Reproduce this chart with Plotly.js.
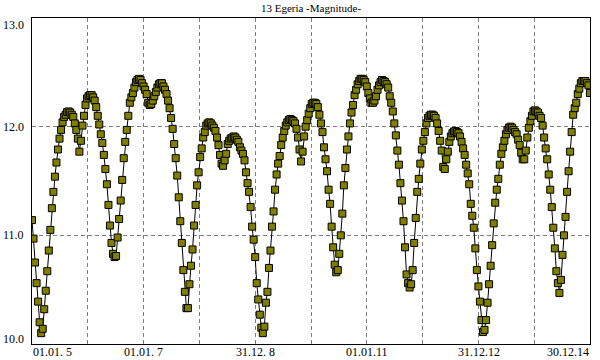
<!DOCTYPE html>
<html>
<head>
<meta charset="utf-8">
<script src="https://cdn.plot.ly/plotly-3.0.1.min.js"></script>
<style>
  html, body { margin: 0; padding: 0; background: #fff; }
  #chart { width: 600px; height: 360px; }
</style>
</head>
<body>
<div id="chart"></div>
<script>
// Ephemeris grid: first date and step (days)
const startDate = '2005-01-01';
const endDate = '2014-12-30';
const stepDays = 10;

// Magnitude of 13 Egeria, one value per step
const magnitude = [
  11.14, 10.97, 10.75, 10.56, 10.39, 10.20, 10.10, 10.14, 10.32, 10.49,
  10.67, 10.86, 11.05, 11.25, 11.40, 11.54, 11.67, 11.79, 11.89, 11.97,
  12.04, 12.09, 12.11, 12.135, 12.14, 12.13, 12.11, 12.09, 12.03, 11.97,
  11.89, 11.77, 11.87, 12.01, 12.10, 12.20, 12.26, 12.28, 12.29, 12.29,
  12.27, 12.24, 12.18, 12.10, 12.02, 11.93, 11.85, 11.74, 11.61, 11.47,
  11.28, 11.09, 10.93, 10.83, 10.80, 10.81, 10.98, 11.15, 11.32, 11.51,
  11.71, 11.86, 11.97, 12.10, 12.22, 12.27, 12.31, 12.36, 12.41, 12.43,
  12.44, 12.43, 12.40, 12.37, 12.34, 12.30, 12.22, 12.20, 12.21, 12.24,
  12.28, 12.32, 12.36, 12.39, 12.40, 12.40, 12.37, 12.34, 12.30, 12.24,
  12.17, 12.08, 11.98, 11.84, 11.71, 11.55, 11.35, 11.13, 10.93, 10.68,
  10.48, 10.33, 10.33, 10.55, 10.72, 10.87, 11.09, 11.28, 11.46, 11.58,
  11.72, 11.80, 11.90, 11.95, 12.01, 12.03, 12.04, 12.03, 12.01, 11.99,
  11.96, 11.90, 11.83, 11.74, 11.66, 11.64, 11.69, 11.75, 11.84, 11.87,
  11.89, 11.90, 11.91, 11.90, 11.88, 11.86, 11.81, 11.78, 11.75, 11.69,
  11.58, 11.48, 11.40, 11.26, 11.08, 10.96, 10.80, 10.56, 10.41, 10.27,
  10.15, 10.10, 10.16, 10.38, 10.48, 10.70, 10.86, 11.08, 11.22, 11.42,
  11.56, 11.66, 11.73, 11.83, 11.90, 11.96, 12.01, 12.04, 12.06, 12.07,
  12.06, 12.05, 12.03, 11.98, 11.90, 11.79, 11.68, 11.77, 11.91, 12.00,
  12.06, 12.12, 12.17, 12.21, 12.22, 12.22, 12.21, 12.18, 12.11, 12.03,
  11.95, 11.81, 11.70, 11.59, 11.42, 11.29, 11.08, 10.89, 10.73, 10.66,
  10.68, 10.83, 11.00, 11.20, 11.46, 11.62, 11.79, 11.91, 12.03, 12.13,
  12.20, 12.29, 12.34, 12.39, 12.42, 12.44, 12.44, 12.43, 12.41, 12.37,
  12.31, 12.26, 12.22, 12.22, 12.24, 12.28, 12.34, 12.38, 12.41, 12.43,
  12.42, 12.41, 12.39, 12.36, 12.28, 12.22, 12.14, 12.03, 11.92, 11.78,
  11.65, 11.48, 11.32, 11.13, 10.89, 10.64, 10.56, 10.52, 10.55, 10.68,
  10.93, 11.16, 11.40, 11.52, 11.66, 11.79, 11.87, 11.95, 12.03, 12.08,
  12.10, 12.11, 12.11, 12.10, 12.08, 12.03, 11.96, 11.87, 11.78, 11.63,
  11.61, 11.70, 11.77, 11.86, 11.91, 11.94, 11.955, 11.96, 11.95, 11.94,
  11.91, 11.86, 11.80, 11.74, 11.65, 11.57, 11.47, 11.29, 11.18, 11.07,
  10.88, 10.68, 10.53, 10.39, 10.22, 10.11, 10.13, 10.22, 10.38, 10.55,
  10.72, 10.91, 11.11, 11.30, 11.42, 11.52, 11.65, 11.75, 11.81, 11.87,
  11.93, 11.97, 11.99, 12.00, 11.99, 11.97, 11.95, 11.93, 11.88, 11.83,
  11.76, 11.70, 11.70, 11.78, 11.90, 11.99, 12.05, 12.10, 12.14, 12.15,
  12.14, 12.13, 12.10, 12.08, 12.01, 11.90, 11.80, 11.70, 11.56, 11.42,
  11.26, 11.07, 10.88, 10.67, 10.56, 10.47, 10.59, 10.82, 11.00, 11.17,
  11.40, 11.59, 11.77, 11.95, 12.11, 12.17, 12.22, 12.30, 12.35, 12.40,
  12.42, 12.42, 12.42, 12.40, 12.38, 12.31
];

// Grid (yearly) dates
const gridDates = ['2006-01-01','2007-01-01','2008-01-01','2009-01-01','2010-01-01',
                   '2011-01-01','2012-01-01','2013-01-01','2014-01-01'];
// Date labels under the axis
const xLabelDates = ['2005-01-01','2007-01-01','2008-12-31','2011-01-01','2012-12-31','2014-12-30'];
const xLabelText  = ['01.01. 5','01.01. 7','31.12. 8','01.01.11','31.12.12','30.12.14'];
// Magnitude axis labels
const yTickVals = [10, 11, 12, 13];
const yTickText = ['10.0', '11.0', '12.0', '13.0'];

const t0 = Date.parse(startDate + 'T00:00:00Z');
const dates = magnitude.map((_, i) =>
  new Date(t0 + i * stepDays * 86400000).toISOString().slice(0, 10));

const serif = '"Liberation Serif", "Times New Roman", Times, serif';
const font = { family: serif, size: 12, color: '#000' };

const annotations = [];
xLabelDates.forEach((d, k) => {
  annotations.push({
    x: d, xref: 'x', y: 0, yref: 'paper',
    text: xLabelText[k], showarrow: false,
    xanchor: k === 0 ? 'left' : (k === xLabelDates.length - 1 ? 'right' : 'center'),
    yanchor: 'middle', yshift: -8, font: font, borderpad: 0
  });
});
yTickVals.forEach((v, k) => {
  let ys = 0;
  if (k === 0) ys = 5;
  if (k === yTickVals.length - 1) ys = -7;
  annotations.push({
    x: 0, xref: 'paper', y: v, yref: 'y',
    text: yTickText[k], showarrow: false,
    xanchor: 'right', yanchor: 'middle', xshift: -7, yshift: ys,
    font: font, borderpad: 0
  });
});

const trace = {
  x: dates, y: magnitude, type: 'scatter', mode: 'lines+markers',
  line: { color: '#000', width: 1 },
  marker: { symbol: 'square', size: 7, color: '#808000', line: { color: '#000', width: 1 } },
  hoverinfo: 'skip', cliponaxis: true
};

const layout = {
  width: 600, height: 360,
  margin: { l: 32, r: 10, t: 18, b: 16, pad: 0 },
  paper_bgcolor: '#fff', plot_bgcolor: '#fff',
  showlegend: false,
  title: { text: '13 Egeria -Magnitude-', font: { family: serif, size: 11, color: '#000' },
           x: 0.5, xref: 'paper', xanchor: 'center', y: 1 - 8 / 360, yref: 'container', yanchor: 'middle' },
  xaxis: {
    type: 'date', range: [startDate, endDate],
    tickmode: 'array', tickvals: gridDates, showticklabels: false, ticks: '',
    showgrid: true, gridcolor: '#808080', gridwidth: 1, griddash: '4px,3px',
    showline: true, linecolor: '#000', linewidth: 1, mirror: true, zeroline: false, fixedrange: true
  },
  yaxis: {
    range: [10, 13], tickmode: 'array', tickvals: [11, 12], showticklabels: false, ticks: '',
    showgrid: true, gridcolor: '#808080', gridwidth: 1, griddash: '4px,3px',
    showline: true, linecolor: '#000', linewidth: 1, mirror: true, zeroline: false, fixedrange: true
  },
  annotations: annotations
};

Plotly.newPlot('chart', [trace], layout, { displayModeBar: false, staticPlot: true });
</script>
</body>
</html>
